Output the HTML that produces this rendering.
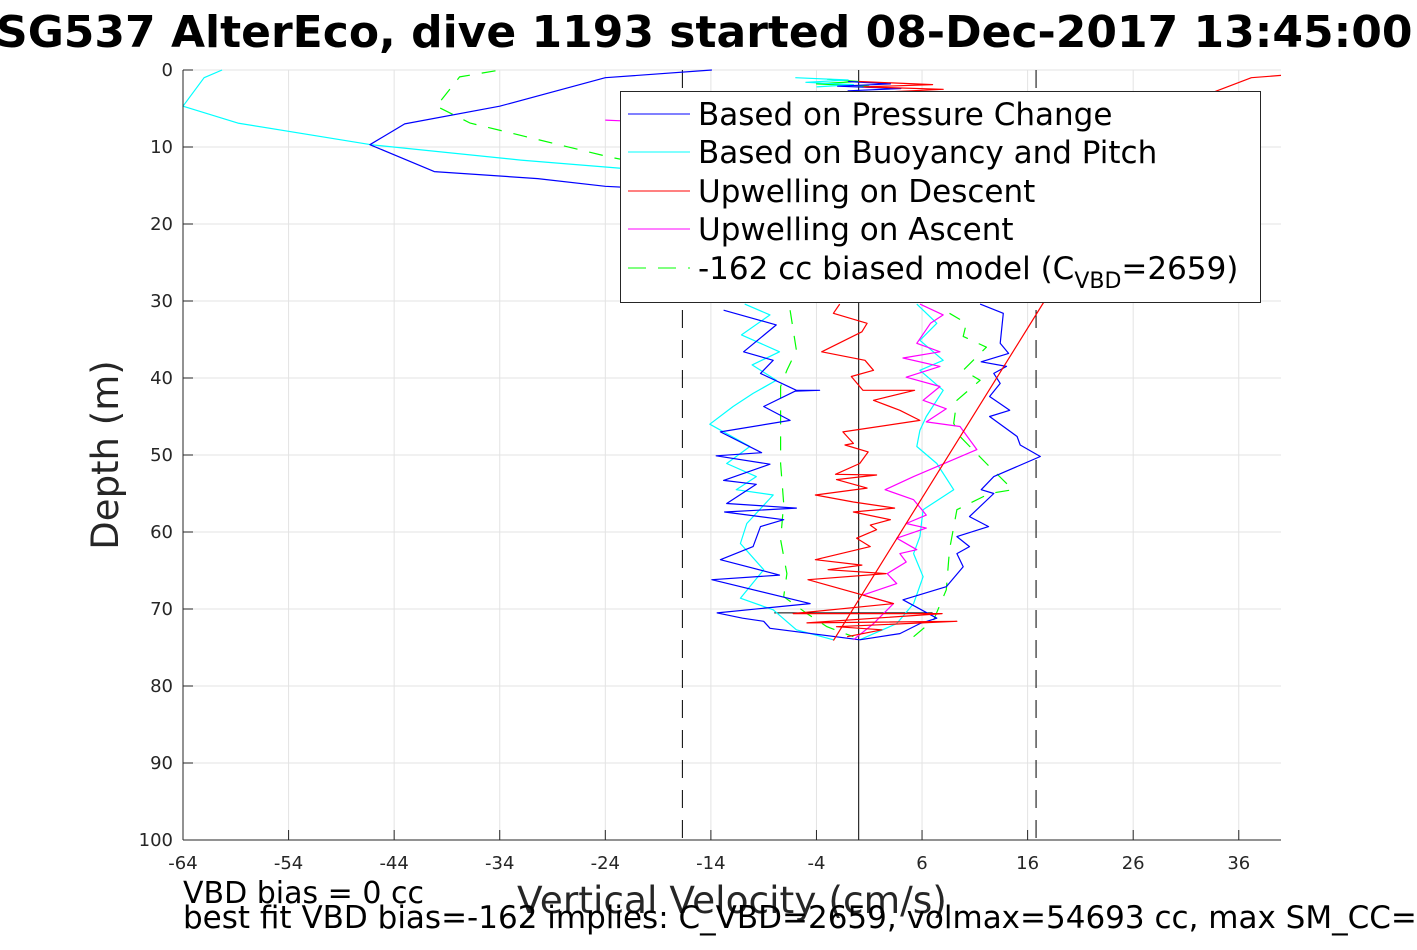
<!DOCTYPE html>
<html><head><meta charset="utf-8">
<style>
body{margin:0;background:#fff;width:1417px;height:945px;overflow:hidden;font-family:"Liberation Sans","DejaVu Sans",sans-serif}
svg text{font-family:"DejaVu Sans","Liberation Sans",sans-serif}
</style></head>
<body>
<svg id="chart" width="1417" height="945" xmlns="http://www.w3.org/2000/svg">
<text x="-4" y="47" font-size="44" font-weight="bold" fill="#000">SG537 AlterEco, dive 1193 started 08-Dec-2017 13:45:00</text>
<g id="grid"></g>
<g id="series"></g>
<g id="axes"></g>
<text transform="translate(118,455) rotate(-90)" text-anchor="middle" font-size="37" fill="#262626">Depth (m)</text>
<text x="732" y="913" text-anchor="middle" font-size="37.5" fill="#262626">Vertical Velocity (cm/s)</text>
<text x="183" y="903" font-size="30" fill="#000">VBD bias = 0 cc</text>
<text x="183" y="928" font-size="31" fill="#000">best fit VBD bias=-162 implies: C_VBD=2659, volmax=54693 cc, max SM_CC=</text>
<g>
<rect x="620.5" y="91.5" width="640" height="211" fill="#fff" stroke="#262626" stroke-width="1"/>
<line x1="628" y1="114" x2="690" y2="114" stroke="#0000ff"/>
<text x="698" y="125" font-size="31" fill="#000">Based on Pressure Change</text>
<line x1="628" y1="152" x2="690" y2="152" stroke="#00ffff"/>
<text x="698" y="163" font-size="31" fill="#000">Based on Buoyancy and Pitch</text>
<line x1="628" y1="191" x2="690" y2="191" stroke="#ff0000"/>
<text x="698" y="202" font-size="31" fill="#000">Upwelling on Descent</text>
<line x1="628" y1="229" x2="690" y2="229" stroke="#ff00ff"/>
<text x="698" y="240" font-size="31" fill="#000">Upwelling on Ascent</text>
<line x1="628" y1="268" x2="690" y2="268" stroke="#00ff00" stroke-dasharray="18,12"/>
<text x="698" y="279" font-size="31" fill="#000">-162 cc biased model (C<tspan font-size="22" dy="9">VBD</tspan><tspan dy="-9">=2659)</tspan></text>
</g>
</svg>
<script>
const xTicks=[-64,-54,-44,-34,-24,-14,-4,6,16,26,36];
const yTicks=[0,10,20,30,40,50,60,70,80,90,100];
const xMin=-64,xMax=40,yMin=0,yMax=100;
const L=183,R=1281,T=70,B=840;
function X(v){return L+(v-xMin)/(xMax-xMin)*(R-L);}
function Y(d){return T+(d-yMin)/(yMax-yMin)*(B-T);}

// Based on pressure change (blue)
const blueTopD=[0,1.0,4.7,7,9.7,13.2,14.1,15.1,15.8,17];
const blueTopV=[-13.9,-24,-34,-43,-46.3,-40.2,-30.4,-24,-14,-8];
const blueDownD=[31.2,33.1,36.6,37.7,39.4,41.6,41.6,41.7,43.7,45.5,47,49.7,50.1,51.2,53.3,53.8,56.3,56.9,57.4,58.4,59.3,61.9,63.6,65.6,66.2,69.3,70.5,71.2,71.6,72.5,74];
const blueDownV=[-12.8,-7.8,-10.9,-8.1,-9.3,-5.9,-3.7,-6,-9,-6.5,-13.1,-9.2,-13.5,-8.4,-12.8,-9.7,-12.5,-5.9,-12.7,-7.1,-9.3,-10,-13.1,-7.5,-13.9,-4.6,-13.4,-11,-9,-8.4,0.1];
const blueUpD=[74,73.2,71.9,71.2,68.8,67.1,64.5,62.8,61.9,60.6,59.3,58,55,54.5,52.8,50.2,48.7,47.6,45,44.2,42.4,40.7,39.4,38.5,37.9,36.8,35.5,31.6,30.4];
const blueUpV=[0.1,3.9,5.8,7.4,4.2,8.3,9.9,9.3,10.5,9.3,12.3,10.5,12.8,11.6,12.8,17.2,15.3,15,12.4,14.3,12.4,13.4,12.8,14,11.6,14.2,13.4,13.7,11.5];
const blueSurfD=[1.5,1.8,2.1,2.4,2.7,3.0];
const blueSurfV=[-1,3,-2,4,-1,2];
// Based on buoyancy and pitch (cyan)
const cyanTopD=[0,1,4.7,6.9,9.7,11.7,13,14];
const cyanTopV=[-60.3,-62,-64,-58.8,-46.2,-32,-20.4,-14];
const cyanDownD=[30.4,31.8,34.4,36.6,38.3,40.3,42,43.7,46,48.9,51.1,52.8,54.5,55.2,58.9,61.5,64.9,68.6,70.1,72.7,74];
const cyanDownV=[-10.8,-8.4,-11.1,-7.5,-10.1,-7.8,-10,-11.9,-14.1,-10.3,-12.5,-9.7,-11.6,-8.1,-10.6,-11.2,-9,-11.2,-8.1,-5.9,-2.4];
const cyanUpD=[74,71.9,69.3,65.8,62.8,60.6,57.1,54.5,51.1,48.9,46.8,45,41.6,39,37.7,35.1,32.9,30.4];
const cyanUpV=[0.1,3.6,5.2,6.1,5.2,5.8,6.1,9,7.4,5.5,5.8,6.4,8,5.8,8,5.8,7.4,5.5];
const cyanSurfD=[1.0,1.3,1.6,1.9,2.2];
const cyanSurfV=[-6,-1,-5,-0.5,-4];
// Upwelling on descent (red)
const redD=[30.4,31.6,32.9,34,36.6,37.7,39,39.8,41.6,41.6,42.9,44.2,45.5,47,48.5,48.7,49.6,51.1,52.5,52.6,53.2,54.3,55.2,56.1,56.9,57.4,58.4,59.1,59.7,60.8,61.9,63.6,64.3,64.9,65.4,66.2,69.3,70.6,70.6,71.8,71.6,72.3,72.7,73.6];
const redV=[-1.8,-2.4,0.8,0.3,-3.5,0.6,1.4,-0.7,0.4,5.3,1.4,3.9,5.8,-1.5,-0.5,-1.3,0.9,0.1,-2.2,1.7,-2.1,0.8,-4.1,-0.5,3.4,-0.5,3,1.1,1.7,-0.2,1.1,-4.1,0.3,-2.9,2.6,-4.8,3.3,-6.2,7.9,-4.9,9.3,-2.1,2.2,-1.1];
const redSurfD=[1.5,1.9,2.2,2.5,2.9];
const redSurfV=[0,7,0.5,8,2];
// Red fitted line
const fitD=[74.1,30,3.2,1.0,0.7];
const fitV=[-2.4,17.6,33,37.2,40];
// Upwelling on ascent (magenta)
const magD=[30.4,31.8,32.9,35.5,36.6,37.4,38.5,39.9,41.1,42.9,44,45.7,46.3,49.3,52.8,54.5,55.8,57.8,58.9,59.5,60.8,62.3,62.8,63.9,65.4,66.7,68.2,69.3,71.9,74];
const magV=[5.8,8,6.8,5.5,7.7,4.2,7.7,4.5,7.7,6.1,8.3,6.4,9.6,11.2,5.2,2.5,5.2,6.4,4.5,6.4,3.6,5.5,3.9,4.5,2.7,3.6,0.4,3.3,1.4,-0.5];
const magTopD=[6.5,6.6];
const magTopV=[-24,-22.5];
// Biased model (green dashed)
const grnTopD=[0.1,0.9,4.7,6.9,11.3,12];
const grnTopV=[-34.4,-37.8,-40,-36.8,-23.6,-21];
const grnDownD=[31.2,36.4,39,41.1,47.2,51.1,56.3,61,65.4,68.4,70.6,72.3,73.6];
const grnDownV=[-6.5,-5.9,-6.8,-7.4,-7.4,-7.4,-7.1,-7.4,-6.8,-7.1,-4.9,-3,-0.5];
const grnUpD=[73.6,71.4,67.5,62.3,57.1,55,54.5,51.1,47.6,45.9,42.9,40.3,39,36,34.6,32.9,31.6];
const grnUpV=[5.2,7.1,8.3,8.6,9.3,12.4,14.6,12.1,9.6,9,9.3,11.5,9.9,12.1,9.9,10.2,8.6];
const grnSurfD=[1.2,1.5,1.8,2.1];
const grnSurfV=[-3,0,-4,1];
// reference lines
const dashedV=[-16.7,16.8];
const zeroV=0;
const blackHD=70.5, blackHV=[-8,7];

const NS="http://www.w3.org/2000/svg";
function mk(tag,attrs,parent){const e=document.createElementNS(NS,tag);for(const k in attrs)e.setAttribute(k,attrs[k]);parent.appendChild(e);return e;}
const grid=document.getElementById('grid'),axes=document.getElementById('axes'),ser=document.getElementById('series');
xTicks.forEach(t=>{
  const g=mk('line',{x1:X(t),x2:X(t),y1:T,y2:B,stroke:'#e3e3e3'},grid);
  
  
  const tk=mk('line',{x1:X(t),x2:X(t),y1:B,y2:B-10,stroke:'#262626'},axes);
  
  
  const tx=mk('text',{x:X(t),y:B+29,'text-anchor':'middle','font-size':18,fill:'#262626'},axes);
  tx.textContent=t;
  
  
});
yTicks.forEach(t=>{
  const g=mk('line',{x1:L,x2:R,y1:Y(t),y2:Y(t),stroke:'#e3e3e3'},grid);
  
  
  const tk=mk('line',{x1:L,x2:L+10,y1:Y(t),y2:Y(t),stroke:'#262626'},axes);
  
  
  const tx=mk('text',{x:L-10,y:Y(t)+6,'text-anchor':'end','font-size':18,fill:'#262626'},axes);
  tx.textContent=t;
  
  
});
const ax1=mk('line',{x1:L,x2:L,y1:T,y2:B,stroke:'#262626'},axes);


const ax2=mk('line',{x1:L,x2:R,y1:B,y2:B,stroke:'#262626'},axes);



dashedV.forEach(v=>{
  const l=mk('line',{x1:X(v),x2:X(v),y1:T,y2:B,stroke:'#000','stroke-dasharray':'18,12'},ser);
  
  
});
const z=mk('line',{x1:X(zeroV),x2:X(zeroV),y1:T,y2:B,stroke:'#000'},ser);


const bh=mk('line',{x1:X(blackHV[0]),x2:X(blackHV[1]),y1:Y(blackHD),y2:Y(blackHD),stroke:'#000'},ser);



function line(ds,vs,color,name,dash){
  const pts=ds.map((d,i)=>X(vs[i]).toFixed(1)+','+Y(d).toFixed(1)).join(' ');
  const a={points:pts,fill:'none',stroke:color,'stroke-width':1.2,'stroke-linejoin':'round'};
  if(dash)a['stroke-dasharray']=dash;
  const p=mk('polyline',a,ser);
  
  
}
line(grnTopD,grnTopV,'#00ff00','model-top','14,12');
line(grnDownD,grnDownV,'#00ff00','model-descent','14,12');
line(grnUpD,grnUpV,'#00ff00','model-ascent','14,12');
line(grnSurfD,grnSurfV,'#00ff00','model-surface');
line(cyanTopD,cyanTopV,'#00ffff','buoyancy-top');
line(cyanDownD,cyanDownV,'#00ffff','buoyancy-descent');
line(cyanUpD,cyanUpV,'#00ffff','buoyancy-ascent');
line(cyanSurfD,cyanSurfV,'#00ffff','buoyancy-surface');
line(blueTopD,blueTopV,'#0000ff','pressure-top');
line(blueDownD,blueDownV,'#0000ff','pressure-descent');
line(blueUpD,blueUpV,'#0000ff','pressure-ascent');
line(blueSurfD,blueSurfV,'#0000ff','pressure-surface');
line(magD,magV,'#ff00ff','upwelling-ascent');
line(magTopD,magTopV,'#ff00ff','upwelling-ascent-top');
line(redD,redV,'#ff0000','upwelling-descent');
line(redSurfD,redSurfV,'#ff0000','upwelling-descent-surface');
line(fitD,fitV,'#ff0000','fit-line');
</script>
</body></html>
